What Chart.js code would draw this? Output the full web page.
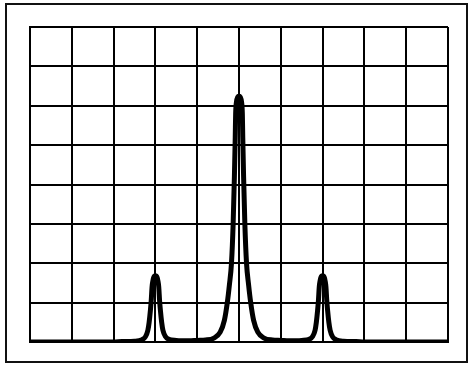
<!DOCTYPE html>
<html lang="en">
<head>
<meta charset="UTF-8">
<title>Peaks</title>
<style>
  html, body { margin: 0; padding: 0; background: #fff; }
  #wrap { position: relative; width: 468px; height: 365px; }
  #frame {
    position: absolute; left: 5px; top: 3px;
    width: 463px; height: 360px; box-sizing: border-box;
    border: 2px solid #111; pointer-events: none;
  }
  canvas { position: absolute; left: 0; top: 0; }
</style>
</head>
<body>
<div id="wrap">
  <canvas id="chart" width="468" height="365"></canvas>
  <div id="frame"></div>
</div>
<script src="https://cdn.jsdelivr.net/npm/chart.js@4.4.1/dist/chart.umd.min.js"></script>
<script>
var xs = [0, 1, 2, 2.2, 2.5, 2.68, 2.76, 2.82, 2.85, 2.88, 2.9, 2.92, 2.94, 2.96,
          3, 3.04, 3.06, 3.08, 3.1, 3.12, 3.15, 3.18, 3.24, 3.32, 3.5, 3.8,
          4, 4.2, 4.4, 4.55, 4.65, 4.72, 4.77, 4.82, 4.86, 4.89, 4.91, 4.92, 4.94, 4.97,
          5, 5.03, 5.06, 5.08, 5.09, 5.11, 5.14, 5.18, 5.23, 5.28, 5.35, 5.45, 5.6, 5.8,
          6, 6.2, 6.5, 6.68, 6.76, 6.82, 6.85, 6.88, 6.9, 6.92, 6.94, 6.96,
          7, 7.04, 7.06, 7.08, 7.1, 7.12, 7.15, 7.18, 7.24, 7.32, 7.5, 7.8, 8, 9, 10];
var ys = [0, 0, 0, 0.01, 0.02, 0.06, 0.13, 0.3, 0.5, 0.8, 1.05, 1.4, 1.55, 1.64,
          1.68, 1.64, 1.55, 1.4, 1.05, 0.8, 0.5, 0.3, 0.14, 0.07, 0.04, 0.03,
          0.04, 0.05, 0.1, 0.25, 0.55, 1.0, 1.45, 2.0, 3.0, 4.2, 5.2, 5.8, 6.1, 6.22,
          6.25, 6.22, 6.1, 5.8, 5.2, 4.2, 3.0, 2.0, 1.45, 1.0, 0.55, 0.25, 0.1, 0.05,
          0.04, 0.03, 0.04, 0.07, 0.14, 0.3, 0.5, 0.8, 1.05, 1.4, 1.55, 1.64,
          1.68, 1.64, 1.55, 1.4, 1.05, 0.8, 0.5, 0.3, 0.13, 0.06, 0.02, 0.01, 0, 0, 0];
var xRange = [0, 10];
var yRange = [0, 8];

var points = xs.map(function (x, i) { return { x: x, y: ys[i] }; });

var gridOpts = { color: '#000', lineWidth: 2, drawTicks: false };
var borderOpts = { display: true, color: '#000', width: 2 };

new Chart(document.getElementById('chart'), {
  type: 'line',
  data: {
    datasets: [{
      data: points,
      borderColor: '#000',
      borderWidth: 5,
      pointRadius: 0,
      fill: false,
      cubicInterpolationMode: 'monotone'
    }]
  },
  options: {
    responsive: false,
    animation: false,
    layout: { padding: { left: 30, right: 20, top: 27, bottom: 23 } },
    plugins: { legend: { display: false }, title: { display: false }, tooltip: { enabled: false } },
    scales: {
      x: {
        type: 'linear', min: xRange[0], max: xRange[1],
        ticks: { display: false, stepSize: 1 },
        grid: gridOpts, border: borderOpts
      },
      y: {
        type: 'linear', min: yRange[0], max: yRange[1],
        ticks: { display: false, stepSize: 1 },
        grid: gridOpts, border: borderOpts
      }
    }
  }
});
</script>
</body>
</html>
